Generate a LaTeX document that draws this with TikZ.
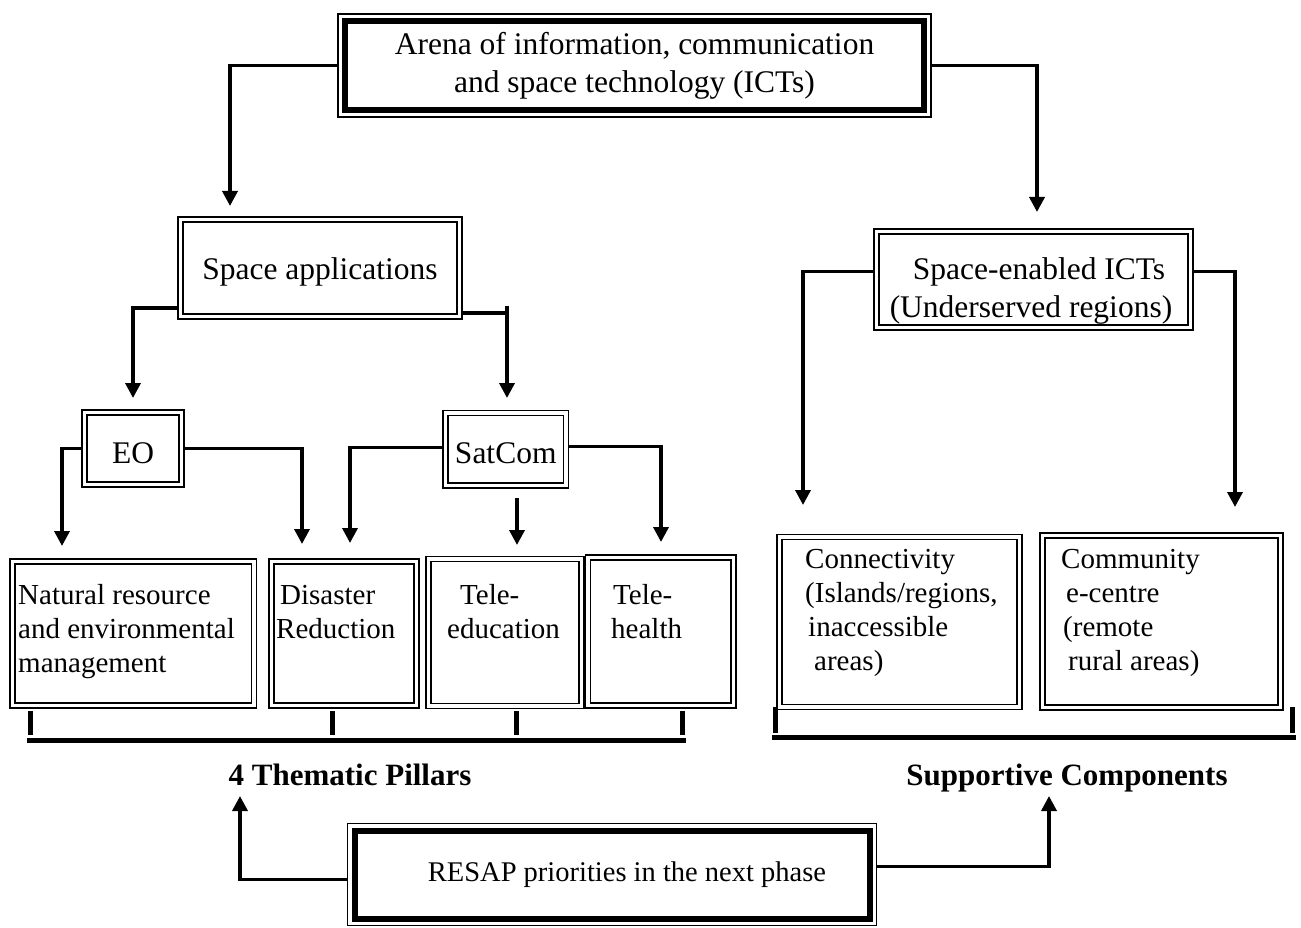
\documentclass[tikz,border=0pt]{standalone}
\usepackage{fontspec}
\setmainfont{Liberation Serif}
\usetikzlibrary{arrows.meta, calc, positioning}

\tikzset{
  dblbox/.style={draw, double, line width=1.8pt, double distance=3.2pt, outer sep=3.4pt, inner sep=2pt},
  heavybox/.style={draw, fill=white, line width=6pt, outer sep=7.5pt,
    preaction={draw, line width=15.5pt},
    preaction={draw=white, line width=12.5pt}},
  link/.style={line width=3.5pt},
  conn/.style={link, ->},
  brace/.style={line width=5pt},
  boxtext/.style={font=\fontsize{29}{34}\selectfont, align=left, inner sep=0pt, anchor=north west},
  headtext/.style={font=\fontsize{31.5}{38}\selectfont},
  pillarlabel/.style={font=\bfseries\fontsize{31}{36}\selectfont, anchor=base}
}

\begin{document}
\begin{tikzpicture}[x=1pt, y=-1pt, >={Triangle[width=15pt,length=15pt]}, line join=miter]
\useasboundingbox (0,0) rectangle (1301,928);

% Top box (thin outer frame + heavy inner frame)
\node[heavybox, headtext, align=center, minimum width=579pt, minimum height=89pt] (arena) at (634.5,65.5)
  {Arena of information, communication\\and space technology (ICTs)};

% Second level
\node[dblbox, headtext, minimum width=278.5pt, minimum height=97pt, text height=29.5pt] (sapp) at (320,268) {Space applications};
\node[dblbox, minimum width=314pt, minimum height=96.3pt] (senab) at (1033.75,279.7) {};
\node[headtext, align=center, inner sep=0pt, anchor=north] (senab-t) at (1031,257.6)
  {\hspace*{16pt}Space-enabled ICTs\\(Underserved regions)};

% Third level
\node[dblbox, headtext, minimum width=96.5pt, minimum height=72pt, text height=29pt, text depth=0pt] (eo) at (133,448.5) {EO};
\node[dblbox, headtext, minimum width=120.5pt, minimum height=72.5pt, text height=29pt, text depth=0pt] (satcom) at (505.75,449.25) {SatCom};

% The four pillars
\node[dblbox, minimum width=241.5pt, minimum height=144pt] (nrm) at (133.25,633.5) {};
\node[dblbox, minimum width=145pt, minimum height=144pt] (dis) at (344,633.5) {};
\node[dblbox, minimum width=153pt, minimum height=147pt] (tedu) at (505,632.5) {};
\node[dblbox, minimum width=145.5pt, minimum height=148pt] (thea) at (660.75,631.5) {};
\node[boxtext] (nrm-t) at (18,584) {Natural resource\\and environmental\\management};
\node[boxtext] (dis-t) at (276,585) {\hspace*{4pt}Disaster\\Reduction};
\node[boxtext] (tedu-t) at (447,584) {\hspace*{13pt}Tele-\\education};
\node[boxtext] (thea-t) at (611,584) {\hspace*{2pt}Tele-\\health};

% Supportive components
\node[dblbox, minimum width=240pt, minimum height=170pt] (conn) at (899.5,622) {};
\node[dblbox, minimum width=238pt, minimum height=172pt] (comm) at (1161.5,621.5) {};
\node[boxtext] (conn-t) at (805,549)
  {Connectivity\\(Islands/regions,\\\hspace*{3pt}inaccessible\\\hspace*{9pt}areas)};
\node[boxtext] (comm-t) at (1061,549)
  {Community\\\hspace*{5pt}e-centre\\\hspace*{2pt}(remote\\\hspace*{7pt}rural areas)};

% Bottom box
\node[heavybox, font=\fontsize{28.5}{34}\selectfont, minimum width=515pt, minimum height=88pt] (resap) at (612,874.5)
  {\hspace*{30pt}RESAP priorities in the next phase};

% Captions under the brackets
\node[pillarlabel] (pillars) at (350,785) {4 Thematic Pillars};
\node[pillarlabel] (support) at (1067,785) {Supportive Components};

% Free ends of the connectors
\coordinate (sapp-in) at (230,206);
\coordinate (senab-in) at (1037,212);
\coordinate (eo-in) at (133,398);
\coordinate (sc-in) at (507,398);
\coordinate (nrm-in) at (62,546);
\coordinate (dis-in) at (302,544);
\coordinate (dis-in2) at (350,543);
\coordinate (sc-tail) at (517,498);
\coordinate (tedu-in) at (517,545);
\coordinate (thea-in) at (661,542);
\coordinate (conn-in) at (803,505);
\coordinate (comm-in) at (1235,507);
\coordinate (pill-up) at (240,796);
\coordinate (supp-up) at (1049,796);

% Connectors
\draw[conn] (arena.west) -| (sapp-in);
\draw[conn] (arena.east) -| (senab-in);
\draw[conn] ([yshift=12pt]sapp.south west) -| (eo-in);
\coordinate (sapp-r) at ([yshift=7pt]sapp.south east);
\draw[link] (sapp-r) -- (sapp-r -| sc-in);
\draw[conn] ([yshift=7pt]sapp-r -| sc-in) -- (sc-in);
\draw[conn] (eo.west) -| (nrm-in);
\draw[conn] (eo.east) -| (dis-in);
\draw[conn] ([yshift=2pt]satcom.west) -| (dis-in2);
\draw[conn] (sc-tail) -- (tedu-in);
\draw[conn] ([yshift=3pt]satcom.east) -| (thea-in);
\draw[conn] ([yshift=8pt]senab.west) -| (conn-in);
\draw[conn] ([yshift=8pt]senab.east) -| (comm-in);
\draw[conn] ([yshift=-5pt]resap.west) -| (pill-up);
\draw[conn] ([yshift=8pt]resap.east) -| (supp-up);

% Brackets
\foreach \tx in {30,332,516,682}
  \draw[brace] (\tx,711) -- (\tx,735);
\draw[brace] (27,740) -- (686,740);
\foreach \tx in {775,1292}
  \draw[brace] (\tx,707) -- (\tx,733);
\draw[brace] (772,737) -- (1296,737);

\end{tikzpicture}
\end{document}
